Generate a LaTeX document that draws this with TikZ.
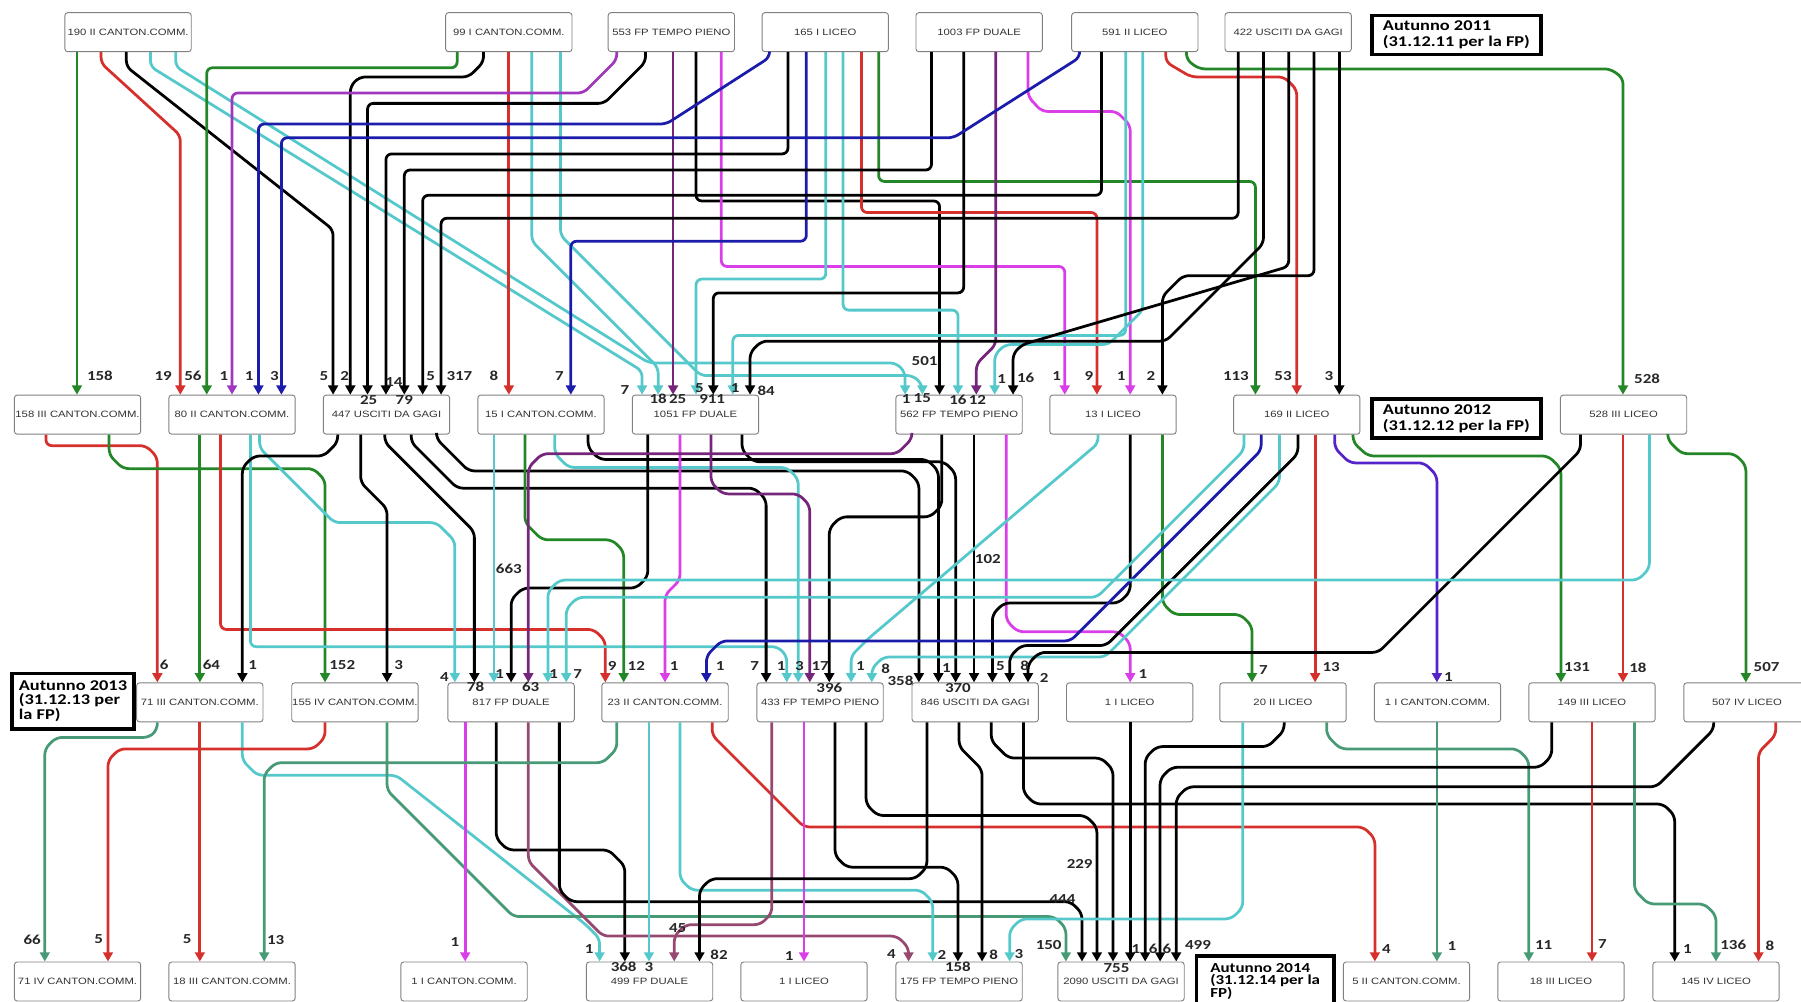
\documentclass[tikz,border=0pt]{standalone}
\usepackage{fontspec}
\setmainfont{Liberation Sans}
\newfontfamily\boxfont{Liberation Sans}[FakeStretch=1.23]
\newfontfamily\numfont{Carlito}[FakeStretch=1.23]
\usetikzlibrary{arrows.meta}

\definecolor{cgreen}{RGB}{35,135,40}
\definecolor{cred}{RGB}{214,48,44}
\definecolor{ccyan}{RGB}{84,200,202}
\definecolor{cmag}{RGB}{218,62,232}
\definecolor{cpur}{RGB}{118,38,122}
\definecolor{cvio}{RGB}{160,55,190}
\definecolor{cblue}{RGB}{28,28,170}
\definecolor{cteal}{RGB}{72,154,118}
\definecolor{cmauve}{RGB}{150,72,112}
\definecolor{cbvio}{RGB}{85,35,200}

\tikzset{
  box/.style={draw=black!50, line width=0.8pt, rounded corners=2.5pt, fill=white,
    minimum width=110pt, minimum height=34pt, inner sep=0pt,
    font=\boxfont\fontsize{8}{9}\selectfont, text=black!80},
  yearbox/.style={draw, line width=3pt, anchor=north west, align=left, inner sep=4pt,
    font=\numfont\bfseries\fontsize{13}{13.5}\selectfont},
  num/.style={font=\numfont\bfseries\fontsize{12}{12}\selectfont, text=black!85, inner sep=0pt},
  fl/.style={line width=2.4pt, rounded corners=5pt, -{Triangle[length=8pt,width=8.5pt]}},
  gr/.style={fl, draw=cgreen},
  rd/.style={fl, draw=cred},
  cy/.style={fl, draw=ccyan},
  mg/.style={fl, draw=cmag},
  pu/.style={fl, draw=cpur},
  vi/.style={fl, draw=cvio},
  bl/.style={fl, draw=cblue},
  tl/.style={fl, draw=cteal},
  mv/.style={fl, draw=cmauve},
  bv/.style={fl, draw=cbvio},
  bk/.style={fl, draw=black},
}

\begin{document}
\begin{tikzpicture}[x=1pt,y=-1pt]
\useasboundingbox (0,0) rectangle (1568,872);

% anno 2011
\node[box] (b190) at (111.5,28) {190 II CANTON.COMM.};
\node[box] (b99) at (443,28) {99 I CANTON.COMM.};
\node[box] (b553) at (584.5,28) {553 FP TEMPO PIENO};
\node[box] (b165) at (718.5,28) {165 I LICEO};
\node[box] (b1003) at (852.5,28) {1003 FP DUALE};
\node[box] (b591) at (988,28) {591 II LICEO};
\node[box] (b422) at (1121.5,28) {422 USCITI DA GAGI};
\node[yearbox, minimum width=147pt, minimum height=34pt] (y2011) at (1193,12) {Autunno 2011\\(31.12.11 per la FP)};

% anno 2012
\node[box] (c158) at (67.5,361) {158 III CANTON.COMM.};
\node[box] (c80) at (202,361) {80 II CANTON.COMM.};
\node[box] (c447) at (336.5,361) {447 USCITI DA GAGI};
\node[box] (c15) at (471,361) {15 I CANTON.COMM.};
\node[box] (c1051) at (605.5,361) {1051 FP DUALE};
\node[box] (c562) at (835,361) {562 FP TEMPO PIENO};
\node[box] (c13) at (969,361) {13 I LICEO};
\node[box] (c169) at (1129,361) {169 II LICEO};
\node[yearbox, minimum width=147pt, minimum height=34pt] (y2012) at (1193,346) {Autunno 2012\\(31.12.12 per la FP)};
\node[box] (c528) at (1413.5,361) {528 III LICEO};

% anno 2013
\node[yearbox, minimum width=106pt, minimum height=48pt, font=\numfont\bfseries\fontsize{13}{12.5}\selectfont] (y2013) at (9,585) {Autunno 2013\\(31.12.13 per\\la FP)};
\node[box] (d71) at (174,611.5) {71 III CANTON.COMM.};
\node[box] (d155) at (309,611.5) {155 IV CANTON.COMM.};
\node[box] (d817) at (445,611.5) {817 FP DUALE};
\node[box] (d23) at (579,611.5) {23 II CANTON.COMM.};
\node[box] (d433) at (714,611.5) {433 FP TEMPO PIENO};
\node[box] (d846) at (849,611.5) {846 USCITI DA GAGI};
\node[box] (d1) at (983.5,611.5) {1 I LICEO};
\node[box] (d20) at (1117,611.5) {20 II LICEO};
\node[box] (d1c) at (1251.5,611.5) {1 I CANTON.COMM.};
\node[box] (d149) at (1386,611.5) {149 III LICEO};
\node[box] (d507) at (1521,611.5) {507 IV LICEO};

% anno 2014
\node[box] (e71) at (67.5,854.5) {71 IV CANTON.COMM.};
\node[box] (e18) at (202,854.5) {18 III CANTON.COMM.};
\node[box] (e1c) at (404,854.5) {1 I CANTON.COMM.};
\node[box] (e499) at (565.5,854.5) {499 FP DUALE};
\node[box] (e1) at (700,854.5) {1 I LICEO};
\node[box] (e175) at (835,854.5) {175 FP TEMPO PIENO};
\node[box] (e2090) at (976,854.5) {2090 USCITI DA GAGI};
\node[yearbox, minimum width=120pt, minimum height=44pt, inner ysep=2pt, font=\numfont\bfseries\fontsize{12}{10.5}\selectfont] (y2014) at (1040,831) {Autunno 2014\\(31.12.14 per la\\FP)};
\node[box] (e5) at (1224.5,854.5) {5 II CANTON.COMM.};
\node[box] (e18l) at (1359,854.5) {18 III LICEO};
\node[box] (e145) at (1494,854.5) {145 IV LICEO};

% 2011 -> 2012
\draw[gr] (b190.south -| 67,0) -- (c158.north -| 67,0);
\draw[rd] (b190.south -| 88,0) -- (88,55) -- (157,118) -- (c80.north -| 157,0);
\draw[bk] (b190.south -| 110,0) -- (110,58) -- (290,200) -- (c447.north -| 290,0);
\draw[cy] (b190.south -| 131,0) -- (131,58) -- (559,323) -- (c1051.north -| 559,0);
\draw[cy] (b190.south -| 153,0) -- (153,58) -- (565,316) -- (780,316) -- (788,324) -- (c562.north -| 788,0);
\draw[gr] (b99.south -| 398,0) -- (398,59) -- (180,59) -- (c80.north -| 180,0);
\draw[bk] (b99.south -| 421,0) -- (421,54) -- (408,67) -- (313,67) -- (305,75) -- (c447.north -| 305,0);
\draw[rd] (b99.south -| 443,0) -- (c15.north -| 443,0);
\draw[cy] (b99.south -| 463,0) -- (463,210) -- (573,320) -- (c1051.north -| 573,0);
\draw[cy] (b99.south -| 488,0) -- (488,205) -- (610,327) -- (795,327) -- (803,335) -- (c562.north -| 803,0);
\draw[vi] (b553.south -| 537,0) -- (537,52) -- (508,81) -- (202,81) -- (c80.north -| 202,0);
\draw[bk] (b553.south -| 562,0) -- (562,54) -- (526,90) -- (320,90) -- (c447.north -| 320,0);
\draw[pu] (b553.south -| 586,0) -- (c1051.north -| 586,0);
\draw[bk] (b553.south -| 606,0) -- (606,175) -- (818,175) -- (c562.north -| 818,0);
\draw[mg] (b553.south -| 628,0) -- (628,232) -- (927,232) -- (c13.north -| 927,0);
\draw[bl] (b165.south -| 670,0) -- (670,50) -- (580,108) -- (225,108) -- (c80.north -| 225,0);
\draw[bk] (b165.south -| 686,0) -- (686,134) -- (336,134) -- (c447.north -| 336,0);
\draw[bl] (b165.south -| 702,0) -- (702,210) -- (497,210) -- (c15.north -| 497,0);
\draw[cy] (b165.south -| 719,0) -- (719,243) -- (606,243) -- (c1051.north -| 606,0);
\draw[cy] (b165.south -| 734,0) -- (734,270) -- (834,270) -- (c562.north -| 834,0);
\draw[rd] (b165.south -| 750,0) -- (750,185) -- (955,185) -- (c13.north -| 955,0);
\draw[gr] (b165.south -| 765,0) -- (765,158) -- (1093,158) -- (c169.north -| 1093,0);
\draw[bk] (b1003.south -| 811,0) -- (811,148) -- (352,148) -- (c447.north -| 352,0);
\draw[bk] (b1003.south -| 839,0) -- (839,255) -- (621,255) -- (c1051.north -| 621,0);
\draw[pu] (b1003.south -| 867,0) -- (867,300) -- (850,317) -- (c562.north -| 850,0);
\draw[mg] (b1003.south -| 895,0) -- (895,84) -- (907,97) -- (972,97) -- (984,109) -- (c13.north -| 984,0);
\draw[bl] (b591.south -| 940,0) -- (940,50) -- (830,120) -- (245,120) -- (c80.north -| 245,0);
\draw[bk] (b591.south -| 959,0) -- (959,170) -- (368,170) -- (c447.north -| 368,0);
\draw[cy] (b591.south -| 980,0) -- (980,292) -- (638,292) -- (c1051.north -| 638,0);
\draw[cy] (b591.south -| 995,0) -- (995,270) -- (965,300) -- (875,300) -- (866,309) -- (c562.north -| 866,0);
\draw[rd] (b591.south -| 1015,0) -- (1015,54) -- (1037,67) -- (1118,67) -- (1129,78) -- (c169.north -| 1129,0);
\draw[gr] (b591.south -| 1033,0) -- (1033,52) -- (1044,60) -- (1402,60) -- (1413,68) -- (c528.north -| 1413,0);
\draw[bk] (b422.south -| 1078,0) -- (1078,190) -- (384,190) -- (c447.north -| 384,0);
\draw[bk] (b422.south -| 1100,0) -- (1100,212) -- (1015,297) -- (663,297) -- (653,307) -- (c1051.north -| 653,0);
\draw[bk] (b422.south -| 1122,0) -- (1122,232) -- (890,300) -- (882,308) -- (c562.north -| 882,0);
\draw[bk] (b422.south -| 1144,0) -- (1144,240) -- (1030,240) -- (1012,258) -- (c13.north -| 1012,0);
\draw[bk] (b422.south -| 1166,0) -- (c169.north -| 1166,0);

% 2012 -> 2013
\draw[rd] (c158.south -| 40,0) -- (40,388) -- (127,388) -- (137,398) -- (d71.north -| 137,0);
\draw[gr] (c158.south -| 95,0) -- (95,396) -- (107,408) -- (273,408) -- (283,418) -- (d155.north -| 283,0);
\draw[gr] (c80.south -| 174,0) -- (d71.north -| 174,0);
\draw[rd] (c80.south -| 192,0) -- (192,548) -- (517,548) -- (527,558) -- (d23.north -| 527,0);
\draw[cy] (c80.south -| 218,0) -- (218,563) -- (677,563) -- (685,571) -- (d433.north -| 685,0);
\draw[cy] (c80.south -| 226,0) -- (226,390) -- (291,455) -- (380,455) -- (396,471) -- (d817.north -| 396,0);
\draw[bk] (c447.south -| 294,0) -- (294,385) -- (282,397) -- (221,397) -- (211,407) -- (d71.north -| 211,0);
\draw[bk] (c447.south -| 314,0) -- (314,420) -- (337,443) -- (d155.north -| 337,0);
\draw[bk] (c447.south -| 335,0) -- (335,385) -- (413,463) -- (d817.north -| 413,0);
\draw[bk] (c447.south -| 358,0) -- (358,385) -- (398,425) -- (657,425) -- (667,435) -- (d433.north -| 667,0);
\draw[bk] (c447.south -| 380,0) -- (380,382) -- (408,410) -- (790,410) -- (800,420) -- (d846.north -| 800,0);
\draw[cy] (c15.south -| 430,0) -- (d817.north -| 430,0);
\draw[gr] (c15.south -| 457,0) -- (457,455) -- (472,470) -- (533,470) -- (543,480) -- (d23.north -| 543,0);
\draw[cy] (c15.south -| 483,0) -- (483,395) -- (495,407) -- (685,407) -- (695,417) -- (d433.north -| 695,0);
\draw[bk] (c15.south -| 512,0) -- (512,390) -- (522,400) -- (807,400) -- (817,410) -- (d846.north -| 817,0);
\draw[bk] (c1051.south -| 564,0) -- (564,502) -- (554,512) -- (455,512) -- (445,522) -- (d817.north -| 445,0);
\draw[mg] (c1051.south -| 592,0) -- (592,505) -- (579,518) -- (d23.north -| 579,0);
\draw[pu] (c1051.south -| 619,0) -- (619,420) -- (629,430) -- (695,430) -- (705,440) -- (d433.north -| 705,0);
\draw[bk] (c1051.south -| 646,0) -- (646,392) -- (656,402) -- (822,402) -- (832,412) -- (d846.north -| 832,0);
\draw[pu] (c562.south -| 794,0) -- (794,382) -- (781,395) -- (472,395) -- (460,407) -- (d817.north -| 460,0);
\draw[bk] (c562.south -| 820,0) -- (820,440) -- (810,450) -- (732,450) -- (722,460) -- (d433.north -| 722,0);
\draw[bk] (c562.south -| 848,0) -- (d846.north -| 848,0);
\draw[mg] (c562.south -| 876,0) -- (876,540) -- (886,550) -- (974,550) -- (984,560) -- (d1.north -| 984,0);
\draw[cy] (c13.south -| 956,0) -- (956,386) -- (756,556) -- (741,571) -- (d433.north -| 741,0);
\draw[bk] (c13.south -| 984,0) -- (984,515) -- (974,525) -- (874,525) -- (864,535) -- (d846.north -| 864,0);
\draw[gr] (c13.south -| 1012,0) -- (1012,525) -- (1022,535) -- (1080,535) -- (1090,545) -- (d20.north -| 1090,0);
\draw[cy] (c169.south -| 1083,0) -- (1083,392) -- (955,520) -- (503,520) -- (493,530) -- (d817.north -| 493,0);
\draw[bl] (c169.south -| 1098,0) -- (1098,392) -- (932,558) -- (628,558) -- (615,571) -- (d23.north -| 615,0);
\draw[cy] (c169.south -| 1114,0) -- (1114,420) -- (962,572) -- (769,572) -- (759,582) -- (d433.north -| 759,0);
\draw[bk] (c169.south -| 1130,0) -- (1130,395) -- (963,562) -- (889,562) -- (879,572) -- (d846.north -| 879,0);
\draw[rd] (c169.south -| 1145,0) -- (d20.north -| 1145,0);
\draw[bv] (c169.south -| 1162,0) -- (1162,390) -- (1175,403) -- (1240,403) -- (1251,414) -- (d1c.north -| 1251,0);
\draw[gr] (c169.south -| 1178,0) -- (1178,385) -- (1191,397) -- (1348,397) -- (1359,408) -- (d149.north -| 1359,0);
\draw[bk] (c528.south -| 1376,0) -- (1376,392) -- (1200,568) -- (905,568) -- (895,578) -- (d846.north -| 895,0);
\draw[rd] (c528.south -| 1413,0) -- (d149.north -| 1413,0);
\draw[cy] (c528.south -| 1436,0) -- (1436,495) -- (1426,505) -- (487,505) -- (477,515) -- (d817.north -| 477,0);
\draw[gr] (c528.south -| 1452,0) -- (1452,383) -- (1464,395) -- (1510,395) -- (1520,405) -- (d507.north -| 1520,0);

% 2013 -> 2014
\draw[tl] (d71.south -| 137,0) -- (137,635) -- (130,642) -- (49,642) -- (39,652) -- (e71.north -| 39,0);
\draw[rd] (d71.south -| 174,0) -- (e18.north -| 174,0);
\draw[cy] (d71.south -| 211,0) -- (211,662) -- (224,675) -- (345,675) -- (510,805) -- (522,817) -- (e499.north -| 522,0);
\draw[rd] (d155.south -| 283,0) -- (283,642) -- (273,652) -- (104,652) -- (94,662) -- (e71.north -| 94,0);
\draw[tl] (d155.south -| 337,0) -- (337,688) -- (447,798) -- (918,798) -- (928,808) -- (e2090.north -| 928,0);
\draw[mg] (d817.south -| 405,0) -- (e1c.north -| 405,0);
\draw[bk] (d817.south -| 432,0) -- (432,730) -- (442,740) -- (530,740) -- (544,754) -- (e499.north -| 544,0);
\draw[mv] (d817.south -| 460,0) -- (460,750) -- (525,815) -- (781,815) -- (791,825) -- (e175.north -| 791,0);
\draw[bk] (d817.south -| 487,0) -- (487,775) -- (497,785) -- (932,785) -- (942,795) -- (e2090.north -| 942,0);
\draw[tl] (d23.south -| 537,0) -- (537,652) -- (525,664) -- (240,664) -- (230,674) -- (e18.north -| 230,0);
\draw[cy] (d23.south -| 565,0) -- (e499.north -| 565,0);
\draw[cy] (d23.south -| 592,0) -- (592,765) -- (602,775) -- (802,775) -- (812,785) -- (e175.north -| 812,0);
\draw[rd] (d23.south -| 620,0) -- (620,640) -- (700,720) -- (1187,720) -- (1197,730) -- (e5.north -| 1197,0);
\draw[mv] (d433.south -| 672,0) -- (672,795) -- (662,805) -- (597,805) -- (587,815) -- (e499.north -| 587,0);
\draw[mg] (d433.south -| 700,0) -- (e1.north -| 700,0);
\draw[bk] (d433.south -| 727,0) -- (727,745) -- (737,755) -- (824,755) -- (834,765) -- (e175.north -| 834,0);
\draw[bk] (d433.south -| 754,0) -- (754,700) -- (764,710) -- (945,710) -- (955,720) -- (e2090.north -| 955,0);
\draw[bk] (d846.south -| 807,0) -- (807,755) -- (797,765) -- (619,765) -- (609,775) -- (e499.north -| 609,0);
\draw[bk] (d846.south -| 835,0) -- (835,650) -- (855,670) -- (e175.north -| 855,0);
\draw[bk] (d846.south -| 863,0) -- (863,645) -- (878,660) -- (959,660) -- (969,670) -- (e2090.north -| 969,0);
\draw[bk] (d846.south -| 891,0) -- (891,690) -- (901,700) -- (1448,700) -- (1458,710) -- (e145.north -| 1458,0);
\draw[bk] (d1.south -| 984,0) -- (e2090.north -| 984,0);
\draw[cy] (d20.south -| 1082,0) -- (1082,790) -- (1072,800) -- (889,800) -- (879,810) -- (e175.north -| 879,0);
\draw[bk] (d20.south -| 1118,0) -- (1118,636) -- (1104,650) -- (1007,650) -- (997,660) -- (e2090.north -| 997,0);
\draw[tl] (d20.south -| 1155,0) -- (1155,640) -- (1167,652) -- (1321,652) -- (1331,662) -- (e18l.north -| 1331,0);
\draw[tl] (d1c.south -| 1251,0) -- (e5.north -| 1251,0);
\draw[bk] (d149.south -| 1351,0) -- (1351,658) -- (1341,668) -- (1020,668) -- (1010,678) -- (e2090.north -| 1010,0);
\draw[rd] (d149.south -| 1386,0) -- (e18l.north -| 1386,0);
\draw[tl] (d149.south -| 1423,0) -- (1423,775) -- (1435,787) -- (1484,787) -- (1494,797) -- (e145.north -| 1494,0);
\draw[bk] (d507.south -| 1492,0) -- (1492,635) -- (1442,685) -- (1034,685) -- (1024,695) -- (e2090.north -| 1024,0);
\draw[rd] (d507.south -| 1546,0) -- (1546,640) -- (1531,655) -- (e145.north -| 1531,0);

% numeri
\foreach \x/\y/\t [count=\i] in {87/327/158, 142/327/19, 168/327/56, 195/327/1, 217/327/1, 239/327/3,
  282/327/5, 300/327/2, 321/348/25, 343/333/14, 352/348/79, 375/327/5, 400/327/317, 430/327/8, 487/327/7,
  544/340/7, 573/347/18, 590/347/25, 609/338/5, 620/347/911, 640/338/1, 667/340/84, 805/314/501,
  789/347/1, 803/347/15, 834/348/16, 851/348/12, 872/330/1, 893/329/16, 920/327/1, 948/327/9,
  976/327/1, 1002/327/2, 1076/327/113, 1117/327/53, 1157/327/3, 1434/330/528}
  \node[num] (na\i) at (\x,\y) {\t};
\foreach \x/\y/\t [count=\i] in {143/579/6, 184/579/64, 220/579/1, 298/579/152, 347/579/3, 387/589/4,
  414/598/78, 435/587/1, 462/598/63, 482/587/1, 503/587/7, 533/580/9, 554/580/12, 587/580/1, 627/580/1,
  657/580/7, 680/580/1, 696/580/3, 714/580/17, 722/599/396, 749/580/1, 771/582/8, 784/593/358,
  824/582/1, 834/599/370, 871/580/5, 892/580/8, 909/590/2, 995/587/1, 1100/583/7, 1159/581/13,
  1261/589/1, 1373/581/131, 1426/581/18, 1538/581/507}
  \node[num] (nb\i) at (\x,\y) {\t};
\foreach \x/\y/\t [count=\i] in {28/818/66, 86/818/5, 163/818/5, 240/818/13, 396/820/1, 513/826/1,
  590/808/45, 543/842/368, 565/842/3, 626/831/82, 687/832/1, 776/831/4, 820/831/2, 834/842/158,
  865/831/8, 887/831/3, 913/823/150, 989/826/1, 1004/826/6, 1016/826/6, 972/843/755, 1043/823/499,
  1207/826/4, 1264/824/1, 1344/823/11, 1395/822/7, 1469/826/1, 1509/823/136, 1541/823/8}
  \node[num] (nc\i) at (\x,\y) {\t};
\node[num] (n663) at (443,495) {663};
\node[num] (n102) at (860,487) {102};
\node[num] (n229) at (940,752) {229};
\node[num] (n444) at (925,783) {444};
\end{tikzpicture}
\end{document}
